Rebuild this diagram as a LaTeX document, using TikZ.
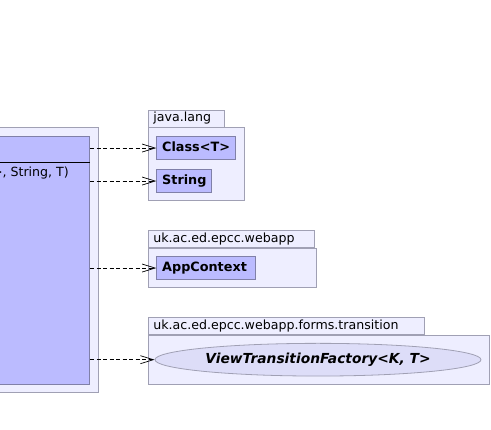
\documentclass[tikz,border=0pt]{standalone}
\usepackage{fontspec}
\setmainfont{DejaVu Sans}
\usetikzlibrary{arrows.meta,shapes.geometric}
\definecolor{pkgfill}{HTML}{EEEEFF}
\definecolor{pkgline}{HTML}{A0A0B4}
\definecolor{clsfill}{HTML}{BBBBFF}
\definecolor{clsline}{HTML}{8080A8}
\definecolor{ellfill}{HTML}{DDDDF8}
\tikzset{
  pkg/.style={draw=pkgline,fill=pkgfill,line width=0.8pt,inner sep=0pt},
  pkgtab/.style={draw=pkgline,fill=pkgfill,line width=0.8pt,anchor=south west,inner xsep=5pt,inner ysep=2pt,font=\fontsize{12.6}{13}\selectfont,text height=9pt,text depth=2.5pt,align=left,text width=#1,minimum height=17pt},
  clsbox/.style={draw=clsline,fill=clsfill,line width=0.8pt,inner xsep=5.5pt,font=\fontsize{12.8}{13}\selectfont\bfseries,text height=9.5pt,text depth=3pt,align=left,text width=#1},
  dep/.style={densely dashed,dash pattern=on 4pt off 2.5pt,line width=0.7pt,-{Straight Barb[length=13pt,width=8pt,line width=0.7pt]}}
}
\begin{document}
\begin{tikzpicture}[x=1pt,y=-1pt]
\useasboundingbox (0,0) rectangle (491,430);
% left package and class
\draw[pkg] (-200,127) rectangle (98,392);
\node[draw=clsline,fill=clsfill,line width=0.8pt,minimum width=280pt,minimum height=248pt,anchor=north east,inner sep=0pt] (cls) at (90,136) {};
\draw[line width=1.8pt] (-190,162.5) -- (cls.east |- 0,162.5);
\node[anchor=east,font=\fontsize{12.6}{13}\selectfont,inner sep=0pt] (op) at (69,173) {<K, T>, String, T)};
% java.lang
\node[pkgtab=66pt] (tab1) at (148,127.5) {java.lang};
\node[pkg,anchor=north west,minimum width=95.5pt,minimum height=73pt] (p1) at (148,127.5) {};
\node[clsbox=68pt,anchor=north west,minimum height=23.3pt] (cT) at (156.3,136) {Class<T>};
\node[clsbox=43.4pt,anchor=north west,minimum height=22.7pt] (cS) at (156.3,169.3) {String};
% uk.ac.ed.epcc.webapp
\node[pkgtab=156pt] (tab2) at (148,248.3) {uk.ac.ed.epcc.webapp};
\node[pkg,anchor=north west,minimum width=168pt,minimum height=39pt] (p2) at (148,248.3) {};
\node[clsbox=87.4pt,anchor=north west,minimum height=23.3pt] (cA) at (156.3,256) {AppContext};
% uk.ac.ed.epcc.webapp.forms.transition
\node[pkgtab=266pt] (tab3) at (148,335) {uk.ac.ed.epcc.webapp.forms.transition};
\node[pkg,anchor=north west,minimum width=341pt,minimum height=49pt] (p3) at (148,335) {};
\node[ellipse,draw=pkgline,fill=ellfill,line width=0.8pt,minimum width=326pt,minimum height=32.7pt,inner sep=0pt,font=\fontsize{13.8}{14}\selectfont\bfseries\itshape] (cV) at (318,359.7) {ViewTransitionFactory<K, T>};
% dependencies
\draw[dep] (cls.east |- cT.west) -- (cT.west);
\draw[dep] (cls.east |- cS.west) -- (cS.west);
\draw[dep] (cls.east |- cA.west) -- (cA.west);
\draw[dep] (cls.east |- cV.west) -- (cV.west);
\end{tikzpicture}
\end{document}
